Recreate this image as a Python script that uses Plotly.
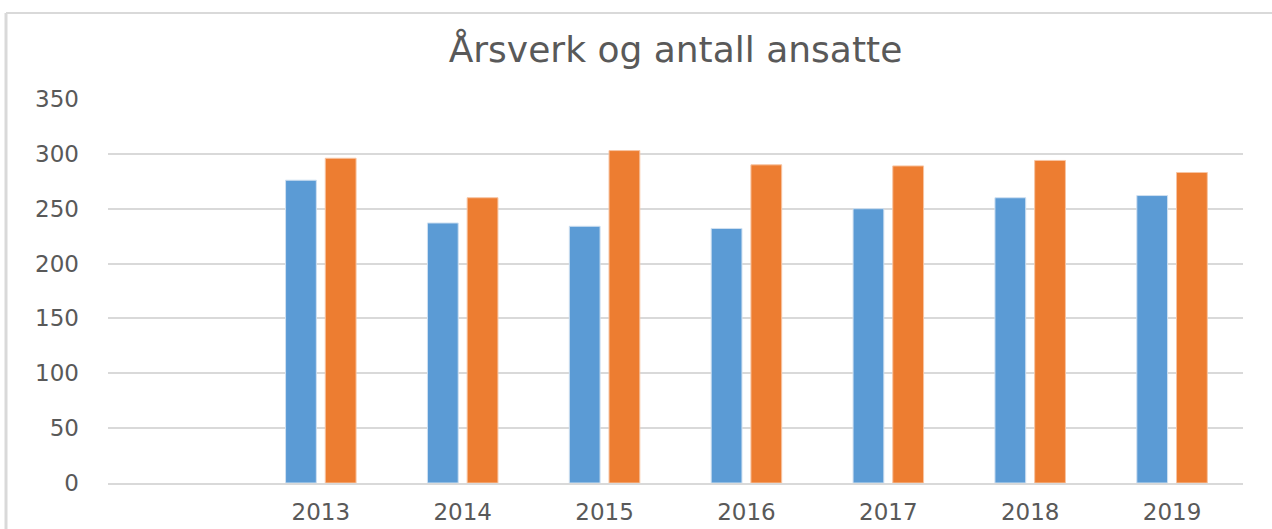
import plotly.graph_objects as go

categories = ["", "2013", "2014", "2015", "2016", "2017", "2018", "2019"]
arsverk = [None, 276, 237, 234, 232, 250, 260, 262]
ansatte = [None, 296, 260, 303, 290, 289, 294, 283]
y_ticks = [0, 50, 100, 150, 200, 250, 300, 350]

W, H = 1272, 529
ml, mr, mt, mb = 108, 29, 99, 46
pw, ph = W - ml - mr, H - mt - mb

def px_x(p):
    return (p - ml) / pw

def px_y(p):
    return (H - mb - p) / ph

fig = go.Figure()
fig.add_trace(go.Bar(x=categories, y=arsverk, name="Årsverk",
                     marker=dict(color="#5B9BD5", line=dict(color="#CFE0F1", width=1))))
fig.add_trace(go.Bar(x=categories, y=ansatte, name="Antall ansatte",
                     marker=dict(color="#ED7D31", line=dict(color="#F7C4A2", width=1))))

font_fam = "DejaVu Sans"
fig.update_layout(
    width=W, height=H,
    margin=dict(l=ml, r=mr, t=mt, b=mb, autoexpand=False),
    paper_bgcolor="white", plot_bgcolor="white",
    showlegend=False,
    barmode="group", bargap=0.44, bargroupgap=0.225,
    title=dict(text="Årsverk og antall ansatte", x=0.5, xref="paper",
               y=1 - 49 / H, yanchor="middle",
               font=dict(family=font_fam, size=36, color="#595959")),
    xaxis=dict(type="category", categoryorder="array", categoryarray=categories,
               tickfont=dict(family=font_fam, size=23, color="#595959"),
               showgrid=False, showline=True, linecolor="#D9D9D9", linewidth=2,
               ticks="", ticklabelstandoff=7, automargin=False),
    yaxis=dict(range=[0, 350], tickvals=y_ticks,
               tickfont=dict(family=font_fam, size=23, color="#595959"),
               showgrid=True, gridcolor="#D9D9D9", gridwidth=2,
               zeroline=False, showline=False, ticks="", ticklabelstandoff=28,
               automargin=False),
    shapes=[
        dict(type="line", xref="paper", yref="paper",
             x0=px_x(6), x1=px_x(6), y0=px_y(13), y1=px_y(H + 5),
             line=dict(color="#D9D9D9", width=3)),
        dict(type="line", xref="paper", yref="paper",
             x0=px_x(6), x1=px_x(W + 5), y0=px_y(13), y1=px_y(13),
             line=dict(color="#D9D9D9", width=2)),
    ],
)

fig.write_html("out.html", config={"displayModeBar": False},
               post_script="document.body.style.margin='0';")
